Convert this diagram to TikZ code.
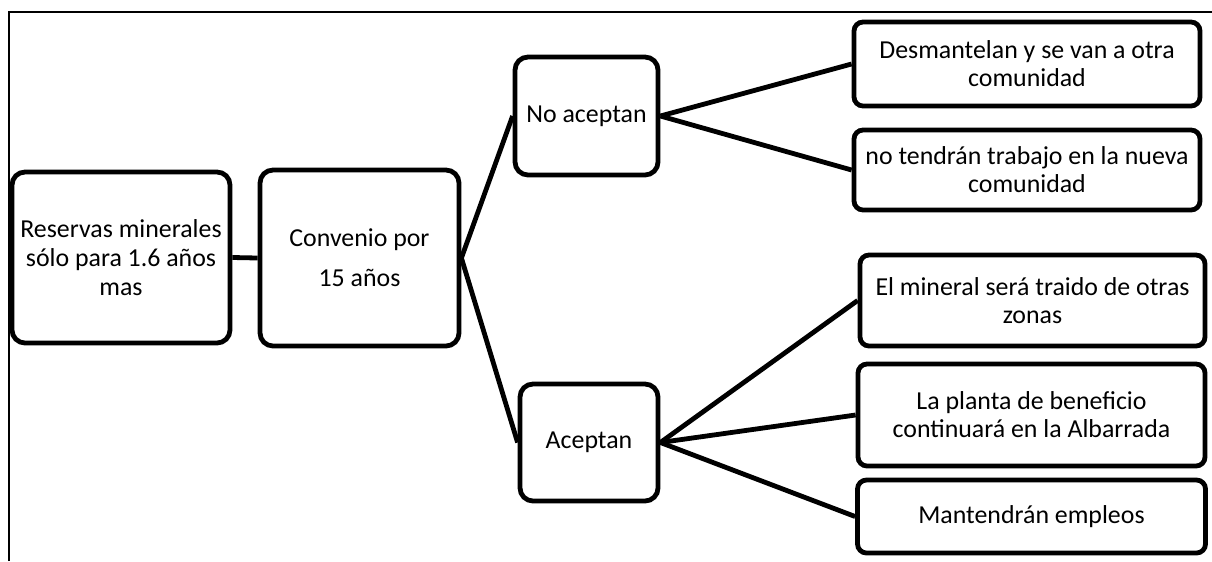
\documentclass[tikz,border=0pt]{standalone}
\usepackage{fontspec}
\setmainfont{Carlito}
\begin{document}
\begin{tikzpicture}[x=0.75pt,y=-0.75pt,
  box/.style n args={4}{draw=black, line width=3.6pt, rounded corners=#3*0.75pt,
     minimum width=#1*0.75pt, minimum height=#2*0.75pt, inner sep=0pt,
     align=center, font=\fontsize{19.4}{#4}\selectfont},
  bigbox/.style 2 args={box={#1}{#2}{13}{21.75}},
  smallbox/.style 2 args={box={#1}{#2}{9}{21}},
  conn/.style={draw=black, line width=3.6pt},
  frame/.style={draw=black, line width=1pt}]
\useasboundingbox (0,0) rectangle (1212,561);
% frame
\draw[frame] (9,561) -- (9,12) -- (1212,12);
% nodes
\node[bigbox={218}{171}] (res) at (121,257.5) {Reservas minerales\\sólo para 1.6 años\\mas};
\node[bigbox={199}{176}] (conv) at (359.5,258) {Convenio por\\[8.25pt]15 años};
\node[bigbox={143}{118}] (noac) at (586.5,116) {No aceptan};
\node[bigbox={138}{117}] (acep) at (589,442.5) {Aceptan};
\node[smallbox={346}{84}] (des) at (1027,64) {Desmantelan y se van a otra\\comunidad};
\node[smallbox={346}{80}] (notr) at (1027,170) {no tendrán trabajo en la nueva\\comunidad};
\node[smallbox={345}{91}] (elm) at (1032.5,300.5) {El mineral será traido de otras\\zonas};
\node[smallbox={347}{102}] (lap) at (1031.5,415) {La planta de beneficio\\continuará en la Albarrada};
\node[smallbox={348}{73}] (man) at (1031.5,516.5) {Mantendrán empleos};
% connectors
\draw[conn] (res.east) -- (conv.west);
\draw[conn] (conv.east) -- (noac.west);
\draw[conn] (conv.east) -- (acep.west);
\draw[conn] (noac.east) -- (des.west);
\draw[conn] (noac.east) -- (notr.west);
\draw[conn] (acep.east) -- (elm.west);
\draw[conn] (acep.east) -- (lap.west);
\draw[conn] (acep.east) -- (man.west);
\end{tikzpicture}
\end{document}
